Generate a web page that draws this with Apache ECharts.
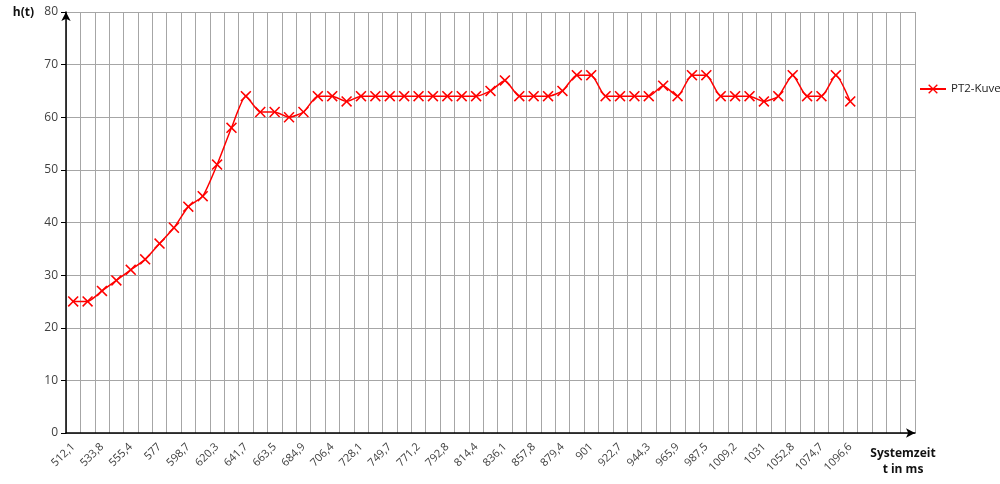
<!DOCTYPE html>
<html>
<head>
<meta charset="utf-8">
<script src="https://cdn.jsdelivr.net/npm/echarts@6/dist/echarts.min.js"></script>
<style>
  html, body { margin: 0; padding: 0; background: #fff; }
  #chart { width: 1000px; height: 484px; }
</style>
</head>
<body>
<div id="chart"></div>
<script>
// x-axis categories (only every other one is labelled in the source, rest blank)
const categories = [
  '512,1', '', '533,8', '', '555,4', '', '577', '', '598,7', '', '620,3', '',
  '641,7', '', '663,5', '', '684,9', '', '706,4', '', '728,1', '', '749,7', '',
  '771,2', '', '792,8', '', '814,4', '', '836,1', '', '857,8', '', '879,4', '',
  '901', '', '922,7', '', '944,3', '', '965,9', '', '987,5', '', '1009,2', '',
  '1031', '', '1052,8', '', '1074,7', '', '1096,6', '', '', '', ''
]

// h(t) values
const pt2Values = [
  25, 25, 27, 29, 31, 33, 36, 39, 43, 45, 51, 58,
  64, 61, 61, 60, 61, 64, 64, 63,
  64, 64, 64, 64, 64, 64, 64, 64, 64,
  65, 67, 64, 64, 64, 65, 68, 68, 64, 64, 64, 64, 66,
  64, 68, 68, 64, 64, 64, 63, 64, 68, 64, 64, 68, 63
]

const yTicks = { min: 0, max: 80, interval: 10 }

const textColor = '#404040'
const gridColor = '#a6a6a6'
const red = '#ff0000'
const fontFamily = '"Open Sans", sans-serif'

// X-shaped marker
const crossSymbol = 'path://M0,1L1,0L5,4L9,0L10,1L6,5L10,9L9,10L5,6L1,10L0,9L4,5Z'

const chart = echarts.init(document.getElementById('chart'))

const option = {
  animation: false,
  textStyle: { fontFamily: fontFamily },
  grid: { left: 66, right: 85, top: 12, bottom: 51 },
  legend: {
    orient: 'vertical',
    left: 914,
    top: 78,
    itemWidth: 26,
    itemHeight: 12,
    itemGap: 4,
    textStyle: { color: '#222', fontSize: 11.5, fontFamily: fontFamily },
    data: ['PT2-Kuve']
  },
  xAxis: {
    type: 'category',
    data: categories,
    boundaryGap: true,
    name: 'Systemzeit\nt in ms',
    nameLocation: 'end',
    nameGap: -12,
    nameMoveOverlap: false,
    nameTextStyle: {
      color: '#111',
      fontWeight: 'bold',
      fontSize: 12,
      align: 'center',
      verticalAlign: 'top',
      lineHeight: 16,
      padding: [13, 0, 0, 0]
    },
    axisLine: {
      lineStyle: { color: '#000', width: 1.5 },
      symbol: ['none', 'arrow'],
      symbolSize: [7, 9]
    },
    axisTick: { interval: 0, length: 4, lineStyle: { color: '#000' } },
    axisLabel: {
      interval: 0,
      rotate: 45,
      margin: 12,
      color: textColor,
      fontSize: 11
    },
    splitLine: { show: true, interval: 0, lineStyle: { color: gridColor, width: 1 } }
  },
  yAxis: {
    type: 'value',
    min: yTicks.min,
    max: yTicks.max,
    interval: yTicks.interval,
    name: 'h(t)',
    nameLocation: 'end',
    nameGap: -1,
    nameMoveOverlap: false,
    nameTextStyle: {
      color: '#111',
      fontWeight: 'bold',
      fontSize: 12,
      align: 'right',
      verticalAlign: 'middle',
      padding: [0, 32, 0, 0]
    },
    axisLine: {
      show: true,
      lineStyle: { color: '#000', width: 1.5 },
      symbol: ['none', 'arrow'],
      symbolSize: [7, 9]
    },
    axisTick: { show: true, length: 5, lineStyle: { color: '#000' } },
    axisLabel: { color: textColor, fontSize: 12, margin: 8 },
    splitLine: { show: true, lineStyle: { color: gridColor, width: 1 } }
  },
  series: [
    {
      name: 'PT2-Kuve',
      type: 'line',
      data: pt2Values,
      smooth: 0.2,
      symbol: crossSymbol,
      symbolSize: 11,
      lineStyle: { color: red, width: 1.5 },
      itemStyle: { color: red }
    }
  ]
}

chart.setOption(option)
</script>
</body>
</html>
